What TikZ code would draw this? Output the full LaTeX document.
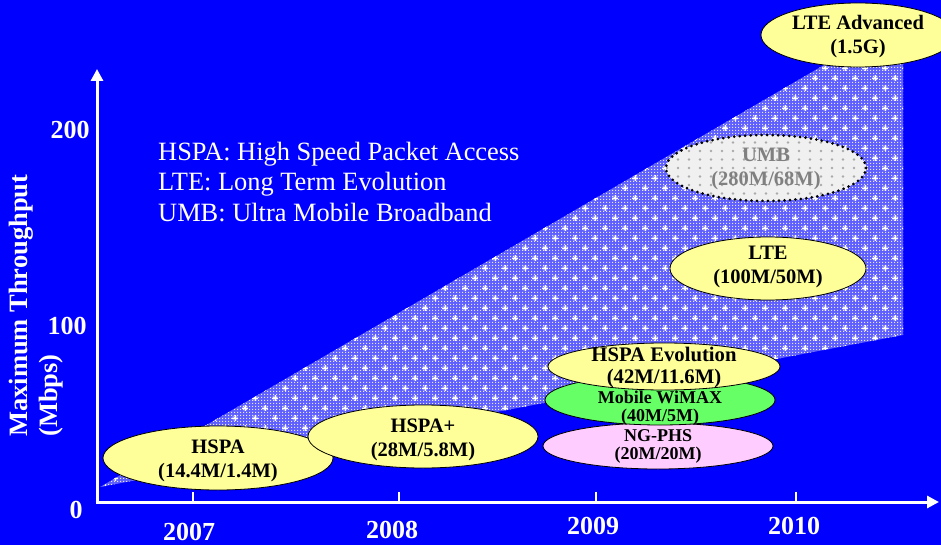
\documentclass[tikz,border=0pt]{standalone}
\usepackage{fontspec}
\setmainfont{Liberation Serif}
\usetikzlibrary{shapes.geometric,arrows.meta,patterns.meta}

\definecolor{bgblue}{RGB}{0,0,255}
\definecolor{ellyellow}{RGB}{255,255,153}
\definecolor{ellgreen}{RGB}{102,255,102}
\definecolor{ellpink}{RGB}{255,204,255}
\definecolor{wedgebase}{RGB}{95,95,253}
\definecolor{wedgelight}{RGB}{228,228,255}
\definecolor{umbfill}{RGB}{240,240,240}
\definecolor{umbdot}{RGB}{170,170,170}
\definecolor{umbtext}{RGB}{128,128,128}

% fine mesh used for the growth band
\tikzdeclarepattern{
  name=meshgrid, type=uncolored,
  bottom left={(0pt,0pt)}, top right={(3pt,3pt)},
  tile size={(3pt,3pt)},
  code={\fill (0pt,0pt) rectangle (1.6pt,1.6pt);}
}

\tikzset{
  bubble/.style={ellipse, draw=black, line width=0.8pt, inner sep=0pt},
  bubbletext/.style={font=\fontsize{20.5}{24}\selectfont\bfseries, align=center, inner sep=0pt, text=black},
  smalltext/.style={font=\fontsize{18}{18}\selectfont\bfseries, align=center, inner sep=0pt, text=black},
  axisline/.style={draw=white, line width=3pt},
  axistip/.style={-{Triangle[width=12pt,length=12pt]}},
  ticktrace/.style={draw=white, line width=2pt},
  numlbl/.style={font=\fontsize{26}{30}\selectfont\bfseries, text=white, inner sep=0pt},
  legendtxt/.style={font=\fontsize{26.4}{30.7}\selectfont, text=white, align=left, inner sep=0pt},
}

\begin{document}
\begin{tikzpicture}[x=1pt,y=-1pt]
% canvas
\fill[bgblue] (0,0) rectangle (941,545);
\useasboundingbox (0,0) rectangle (941,545);

% growth band
\coordinate (w1) at (100,487);
\coordinate (w2) at (836,58);
\coordinate (w3) at (903,58);
\coordinate (w4) at (903,335);
\path[preaction={fill=wedgebase}, pattern=meshgrid, pattern color=wedgelight]
  (w1) -- (w2) -- (w3) -- (w4) -- cycle;
\begin{scope}
  \clip (w1) -- (w2) -- (w3) -- (w4) -- cycle;
  \foreach \j in {0,...,43} {
    \foreach \i in {0,...,41} {
      \pgfmathsetmacro{\sx}{95+20*\i+10*mod(\j,2)}
      \pgfmathsetmacro{\sy}{58+10*\j}
      \fill[white, opacity=0.35] (\sx,\sy) circle (3);
      \draw[white, line width=0.8pt] (\sx-3,\sy) -- (\sx+3,\sy) (\sx,\sy-3) -- (\sx,\sy+3);
      \fill[white] (\sx,\sy) circle (1.3);
    }
  }
\end{scope}

% axes
\coordinate (O) at (97,502);
\coordinate (ytip) at (97,69);
\coordinate (xtip) at (939,502);
\coordinate (ybase) at (97,503.5);
\coordinate (xbase) at (95.5,502);
\draw[axisline, axistip, white] (ybase) -- (ytip);
\draw[axisline, axistip, white] (xbase) -- (xtip);

% year ticks
\foreach \tx/\nm in {193/a, 399/b, 596/c, 796/d} {
  \coordinate (t\nm top) at (\tx,492);
  \coordinate (t\nm bot) at (\tx,501);
  \draw[ticktrace] (t\nm top) -- (t\nm bot);
}

% axis numbers
\node[numlbl] (y200) at (70,130) {200};
\node[numlbl] (y100) at (67,326) {100};
\node[numlbl] (y0) at (76,510) {0};
\node[numlbl] (yr7) at (189,532) {2007};
\node[numlbl] (yr8) at (392,530) {2008};
\node[numlbl] (yr9) at (593,526) {2009};
\node[numlbl] (yr10) at (794,526) {2010};

% axis title
\node[font=\fontsize{26.5}{29.5}\selectfont\bfseries, text=white, align=left,
      inner sep=0pt, rotate=90, anchor=south west] (ytitle) at (63,437)
  {Maximum Throughput\\(Mbps)};

% legend
\node[legendtxt, anchor=north west] (legend) at (158,141.5)
  {HSPA: High Speed Packet Access\\LTE: Long Term Evolution\\UMB: Ultra Mobile Broadband};

% technology bubbles
\node[bubble, fill=ellyellow, minimum width=230, minimum height=64] (hspa) at (218,458) {};
\node[bubbletext] (hspaT) at (218,461) {HSPA\\(14.4M/1.4M)};

\node[bubble, fill=ellyellow, minimum width=230, minimum height=63] (hspap) at (423,436.5) {};
\node[bubbletext] (hspapT) at (423,440) {HSPA+\\(28M/5.8M)};

\node[bubble, fill=ellpink, minimum width=230, minimum height=46] (ngphs) at (658,446) {};
\node[smalltext] (ngphsT) at (658,446) {NG-PHS\\(20M/20M)};

\node[bubble, fill=ellgreen, minimum width=230, minimum height=50] (wimax) at (660,400) {};
\node[smalltext] (wimaxT) at (660,408.5) {Mobile WiMAX\\(40M/5M)};

\node[bubble, fill=ellyellow, minimum width=232, minimum height=47] (hspaevo) at (664,366.5) {};
\node[bubbletext, font=\fontsize{20.7}{22}\selectfont\bfseries] (hspaevoT) at (664,368) {HSPA Evolution\\(42M/11.6M)};

\node[bubble, fill=ellyellow, minimum width=196, minimum height=63] (lte) at (768,268.5) {};
\node[bubbletext] (lteT) at (768,267) {LTE\\(100M/50M)};

\node[ellipse, inner sep=0pt, fill=umbfill, draw=black, line width=3pt,
      dash pattern=on 0pt off 5.5pt, line cap=round,
      minimum width=200, minimum height=66,
      path picture={
        \foreach \i in {-9,...,9}
          \foreach \j in {-4,...,4}
            \fill[umbdot, shift={(path picture bounding box.center)}] (\i*11,\j*8.5) circle (1.4);
      }] (umb) at (766,168) {};
\node[bubbletext, text=umbtext] (umbT) at (766,168.5) {UMB\\(280M/68M)};

\node[bubble, fill=ellyellow, minimum width=194, minimum height=64] (ltea) at (858,35) {};
\node[bubbletext] (lteaT) at (858,36.5) {LTE Advanced\\(1.5G)};
\end{tikzpicture}
\end{document}
